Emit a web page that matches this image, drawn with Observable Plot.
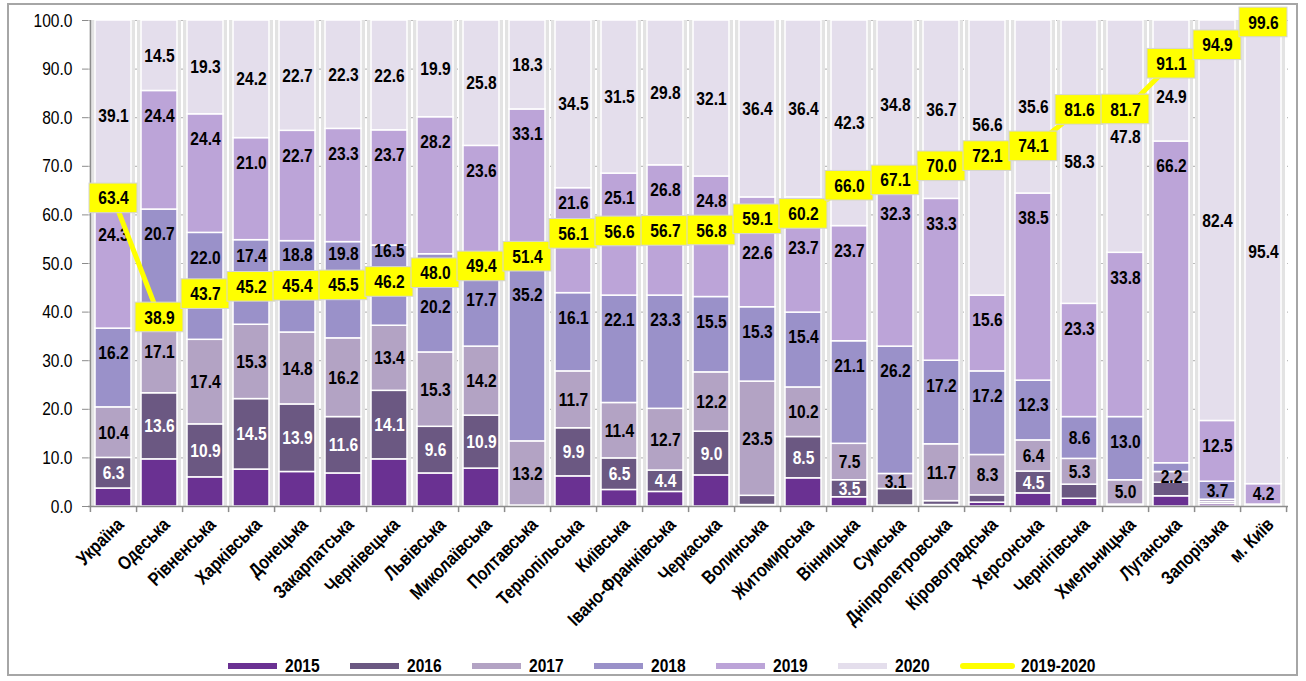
<!DOCTYPE html>
<html><head><meta charset="utf-8">
<script src="https://cdn.jsdelivr.net/npm/d3@7"></script>
<script src="https://cdn.jsdelivr.net/npm/@observablehq/plot@0.6"></script>
<style>
  html,body{margin:0;padding:0;background:#fff;}
  body{width:1306px;height:681px;position:relative;overflow:hidden;
       font-family:"Liberation Sans",Arial,sans-serif;}
  #frame{position:absolute;left:7px;top:3px;width:1291px;height:673px;border:2px solid #a6a6a6;box-sizing:border-box;}
  #chart{position:absolute;left:0;top:0;}
  #legend{position:absolute;left:228px;top:655px;display:flex;align-items:center;height:22px;}
  .item{display:flex;align-items:center;width:122px;}
  .sw{width:49px;height:6px;margin-right:8px;flex:none;}
  .ln{width:55px;height:6px;border-radius:3px;background:#ffff00;margin-right:6px;flex:none;}
  .lab{display:inline-block;font-weight:bold;font-size:19px;color:#000;white-space:nowrap;transform:scaleX(0.82);transform-origin:left center;}
</style>
</head><body>
<div id="frame"></div>
<div id="chart"></div>
<div id="legend"></div>
<script>
const regions = ["Україна","Одеська","Рівненська","Харківська","Донецька","Закарпатська","Чернівецька","Львівська","Миколаївська","Полтавська","Тернопільська","Київська","Івано-Франківська","Черкаська","Волинська","Житомирська","Вінницька","Сумська","Дніпропетровська","Кіровоградська","Херсонська","Чернігівська","Хмельницька","Луганська","Запорізька","м. Київ"];
const years = ["2015","2016","2017","2018","2019","2020"];
const v2015 = [3.7, 9.7, 6.0, 7.6, 7.1, 6.8, 9.7, 6.8, 7.8, 0.1, 6.2, 3.4, 3.0, 6.4, 0.3, 5.8, 1.9, 0.2, 0.3, 0.8, 2.7, 1.6, 0.2, 2.1, 0.5, 0.0];
const v2016 = [6.3, 13.6, 10.9, 14.5, 13.9, 11.6, 14.1, 9.6, 10.9, 0.1, 9.9, 6.5, 4.4, 9.0, 1.9, 8.5, 3.5, 3.4, 0.8, 1.5, 4.5, 2.9, 0.2, 2.8, 0.4, 0.1];
const v2017 = [10.4, 17.1, 17.4, 15.3, 14.8, 16.2, 13.4, 15.3, 14.2, 13.2, 11.7, 11.4, 12.7, 12.2, 23.5, 10.2, 7.5, 3.1, 11.7, 8.3, 6.4, 5.3, 5.0, 2.2, 0.5, 0.1];
const v2018 = [16.2, 20.7, 22.0, 17.4, 18.8, 19.8, 16.5, 20.2, 17.7, 35.2, 16.1, 22.1, 23.3, 15.5, 15.3, 15.4, 21.1, 26.2, 17.2, 17.2, 12.3, 8.6, 13.0, 1.8, 3.7, 0.2];
const v2019 = [24.3, 24.4, 24.4, 21.0, 22.7, 23.3, 23.7, 28.2, 23.6, 33.1, 21.6, 25.1, 26.8, 24.8, 22.6, 23.7, 23.7, 32.3, 33.3, 15.6, 38.5, 23.3, 33.8, 66.2, 12.5, 4.2];
const v2020 = [39.1, 14.5, 19.3, 24.2, 22.7, 22.3, 22.6, 19.9, 25.8, 18.3, 34.5, 31.5, 29.8, 32.1, 36.4, 36.4, 42.3, 34.8, 36.7, 56.6, 35.6, 58.3, 47.8, 24.9, 82.4, 95.4];
const v2019_2020 = [63.4, 38.9, 43.7, 45.2, 45.4, 45.5, 46.2, 48.0, 49.4, 51.4, 56.1, 56.6, 56.7, 56.8, 59.1, 60.2, 66.0, 67.1, 70.0, 72.1, 74.1, 81.6, 81.7, 91.1, 94.9, 99.6];
const yTicks = [0,10,20,30,40,50,60,70,80,90,100];
const lineLabel = "2019-2020";

const colors = ["#6a3192","#6b5882","#b3a3c4","#9a91c9","#bca4d8","#e4deec"];
const minLabel = {"2015": Infinity, "2016": 3.5, "2017": 2, "2018": 2, "2019": 2, "2020": 2};
const series = [v2015, v2016, v2017, v2018, v2019, v2020];
const BOX = 3.05; // half height of the 2019-2020 label boxes (value units)

const rows = [];
regions.forEach((r, i) => {
  let acc = 0;
  const line = v2019_2020[i];
  years.forEach((yr, k) => {
    const v = series[k][i];
    const y1 = acc, y2 = acc + v;
    acc = y2;
    const mid = (y1 + y2) / 2;
    // 2018/2019 labels sit near the inside end, others in the middle
    let ly = (yr === "2018" || yr === "2019") ? Math.max(mid, y2 - 5.1) : mid;
    // keep labels clear of the 2019-2020 boxes
    if (Math.abs(ly - line) < 5.5) {
      const up = ly > line || (y2 - (line + BOX) >= 10);
      ly = up ? line + 6.4 : line - 6.9;
    }
    rows.push({region: r, year: yr, value: v, y1, y2, ly, show: v >= minLabel[yr]});
  });
});
const lineRows = regions.map((r, i) => ({region: r, value: v2019_2020[i]}));

const W = 1306, H = 640, ML = 88, MR = 18, MT = 20, MB = 134;
const step = (W - ML - MR) / regions.length;
const FONT = '"Liberation Sans",Arial,sans-serif';
const axisGray = "#8c8c8c";
const FS = 19;

const chart = Plot.plot({
  width: W, height: H,
  marginLeft: ML, marginRight: MR, marginTop: MT, marginBottom: MB,
  x: {domain: regions, paddingInner: 0.22, paddingOuter: 0.11, axis: null},
  y: {domain: [0, 100], axis: null},
  color: {domain: years, range: colors},
  style: {fontFamily: FONT, fontSize: FS + "px", background: "transparent", overflow: "visible"},
  marks: [
    Plot.ruleY(yTicks.slice(1), {stroke: "#bdbdbd", strokeWidth: 1.2, strokeDasharray: "7,4"}),
    Plot.barY(regions, {x: d => d, y1: d => 0, y2: d => 100, fill: "#e3e3e3", insetLeft: -4, insetRight: -4}),
    Plot.barY(rows, {x: "region", y1: "y1", y2: "y2", fill: "year", stroke: "white", strokeWidth: 1.5}),
    Plot.text(rows.filter(d => d.show && d.year !== "2016"), {x: "region", y: "ly", text: d => d.value.toFixed(1), fill: "black", fontWeight: "bold", fontSize: FS}),
    Plot.text(rows.filter(d => d.show && d.year === "2016"), {x: "region", y: "ly", text: d => d.value.toFixed(1), fill: "white", fontWeight: "bold", fontSize: FS}),
    // axes
    Plot.ruleY([0], {stroke: axisGray, strokeWidth: 1.5}),
    Plot.ruleX([regions[0]], {x: d => d, dx: -step / 2, y1: d => -1.25, y2: d => 100, stroke: axisGray, strokeWidth: 1.5}),
    Plot.ruleX(regions, {x: d => d, dx: step / 2, y1: d => 0, y2: d => -1.25, stroke: axisGray, strokeWidth: 1.5}),
    Plot.axisY({ticks: yTicks, tickFormat: d => d.toFixed(1), tickSize: 6, tickPadding: 10, stroke: axisGray, fontSize: FS, fill: "black", label: null}),
    Plot.text(regions, {x: d => d, y: d => 0, text: d => d, rotate: -45, textAnchor: "end", dx: 7, dy: 15, fontWeight: "bold", fontSize: FS, fill: "black"}),
    // 2019-2020 line
    Plot.line(lineRows, {x: "region", y: "value", stroke: "#ffff00", strokeWidth: 5}),
    Plot.barY(lineRows, {x: "region", y1: d => d.value - BOX, y2: d => d.value + BOX, fill: "#ffff00", stroke: "#d4d4d4", strokeWidth: 1, insetLeft: -6, insetRight: -6}),
    Plot.text(lineRows, {x: "region", y: "value", text: d => d.value.toFixed(1), fontWeight: "bold", fontSize: FS, fill: "black"})
  ]
});
// emulate a narrow (condensed) face: squeeze each positioned text along its own baseline
chart.querySelectorAll("text").forEach(t => {
  const tr = t.getAttribute("transform");
  if (tr && !t.getAttribute("x")) t.setAttribute("transform", tr + " scale(0.82,1)");
});
document.getElementById("chart").append(chart);

const legend = document.getElementById("legend");
years.forEach((yr, k) => {
  const it = document.createElement("div");
  it.className = "item";
  it.innerHTML = `<div class="sw" style="background:${colors[k]}"></div><span class="lab">${yr}</span>`;
  legend.append(it);
});
const li = document.createElement("div");
li.className = "item";
li.style.width = "160px";
li.innerHTML = `<div class="ln"></div><span class="lab">${lineLabel}</span>`;
legend.append(li);
</script>
</body></html>
